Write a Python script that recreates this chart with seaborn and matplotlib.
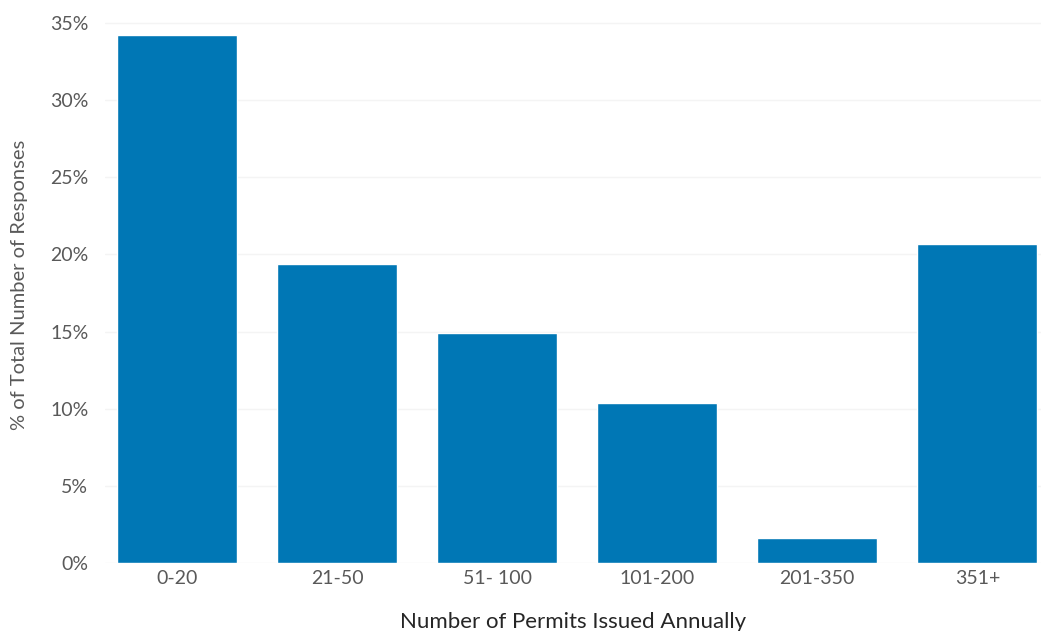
import matplotlib
matplotlib.use("Agg")
import matplotlib.pyplot as plt
from matplotlib.ticker import PercentFormatter
import pandas as pd
import seaborn as sns

categories = ["0-20", "21-50", "51- 100", "101-200", "201-350", "351+"]
shares = [0.342, 0.194, 0.149, 0.104, 0.016, 0.207]
y_ticks = [0, 0.05, 0.10, 0.15, 0.20, 0.25, 0.30, 0.35]

df = pd.DataFrame({"permits": categories, "share": shares})

sns.set_style("white")
plt.rcParams["font.family"] = ["Lato", "DejaVu Sans"]

fig = plt.figure(figsize=(10.45, 6.31), dpi=100)
ax = fig.add_axes([0.1005, 0.1078, 0.896, 0.880])

sns.barplot(data=df, x="permits", y="share", color="#0077b5", width=0.75,
            saturation=1, ax=ax, zorder=2)

ax.set_ylim(0, 0.36)
ax.set_xlim(-0.45, 5.4)
ax.set_yticks(y_ticks)
ax.yaxis.set_major_formatter(PercentFormatter(1.0, decimals=0))
ax.grid(axis="y", color="#f4f4f4", linewidth=1, zorder=0)
for s in ax.spines.values():
    s.set_visible(False)
ax.tick_params(axis="both", length=0, labelsize=14, labelcolor="#595959")
ax.tick_params(axis="y", pad=12)
ax.tick_params(axis="x", pad=5)

ax.set_xlabel("Number of Permits Issued Annually", fontsize=16,
              color="#262626", labelpad=18)
ax.set_ylabel("% of Total Number of Responses", fontsize=14.5,
              color="#595959", labelpad=16)

fig.savefig("out.png", dpi=100, facecolor="white")
